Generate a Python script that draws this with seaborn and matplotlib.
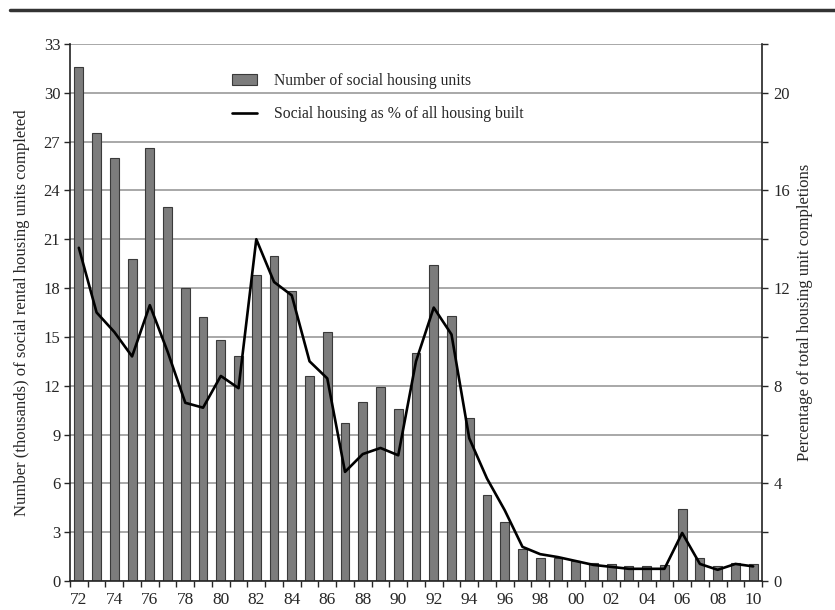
import matplotlib
matplotlib.use('Agg')
import matplotlib.pyplot as plt
import seaborn as sns
import numpy as np
import pandas as pd
from matplotlib.lines import Line2D
from matplotlib.ticker import MultipleLocator, FixedLocator

# data
years = ['72', '73', '74', '75', '76', '77', '78', '79', '80', '81',
         '82', '83', '84', '85', '86', '87', '88', '89', '90', '91',
         '92', '93', '94', '95', '96', '97', '98', '99', '00', '01',
         '02', '03', '04', '05', '06', '07', '08', '09', '10']
units = [31.6, 27.5, 26.0, 19.8, 26.6, 23.0, 18.0, 16.2, 14.8, 13.8,
         18.8, 20.0, 17.8, 12.6, 15.3, 9.7, 11.0, 11.9, 10.6, 14.0,
         19.4, 16.3, 10.0, 5.3, 3.6, 1.95, 1.4, 1.4, 1.25, 1.1,
         1.05, 0.9, 0.9, 1.0, 4.4, 1.4, 0.95, 1.1, 1.05]
pct = [13.65, 11.0, 10.2, 9.2, 11.3, 9.4, 7.3, 7.1, 8.4, 7.9,
       14.0, 12.25, 11.7, 9.0, 8.3, 4.47, 5.2, 5.45, 5.15, 9.0,
       11.2, 10.1, 5.85, 4.2, 2.9, 1.4, 1.1, 0.98, 0.82, 0.66,
       0.58, 0.5, 0.5, 0.5, 1.97, 0.7, 0.46, 0.7, 0.6]

df = pd.DataFrame({'year': years, 'units': units, 'pct': pct})
df['pos'] = np.arange(len(df))

sns.set_style('white')
plt.rcParams['font.family'] = ['Liberation Serif', 'DejaVu Serif']
plt.rcParams['font.size'] = 11

fig = plt.figure(figsize=(8.35, 6.10), dpi=100)
ax = fig.add_axes([0.0838, 0.0475, 0.8288, 0.8805])

sns.barplot(data=df, x='year', y='units', ax=ax, color='#7c7c7c',
            edgecolor='#3a3a3a', linewidth=0.8, width=0.5, saturation=1)
ax.set_xlim(-0.5, len(years) - 0.5)
ax.set_ylim(0, 33)
ax.yaxis.set_major_locator(MultipleLocator(3))
ax.grid(axis='y', color='#9a9a9a', linewidth=1.2)
ax.set_axisbelow(True)

ax.xaxis.set_major_locator(FixedLocator(np.arange(0, len(years), 2)))
ax.set_xticklabels(years[::2])
ax.xaxis.set_minor_locator(FixedLocator(np.arange(-0.5, len(years), 1)))
ax.tick_params(axis='x', which='major', length=0, pad=8, labelsize=12.5)
ax.tick_params(axis='x', which='minor', length=4, width=1, direction='out', bottom=True)
ax.tick_params(axis='y', length=4, width=1, direction='out', left=True, labelsize=12, pad=3)
ax.set_xlabel('')
ax.set_ylabel('Number (thousands) of social rental housing units completed', fontsize=12, labelpad=10)

for side in ['left', 'bottom']:
    ax.spines[side].set_color('#222222')
    ax.spines[side].set_linewidth(1.2)
ax.spines['top'].set_visible(False)
ax.spines['right'].set_visible(False)

ax2 = ax.twinx()
sns.lineplot(data=df, x='pos', y='pct', ax=ax2, color='black', linewidth=1.9)
ax2.set_ylim(0, 22)
ax2.yaxis.set_major_locator(MultipleLocator(4))
ax2.yaxis.set_minor_locator(MultipleLocator(2))
ax2.tick_params(axis='y', which='both', length=4, width=1, direction='out', right=True, labelsize=12, pad=4)
ax2.set_ylabel('Percentage of total housing unit completions', fontsize=12, labelpad=5)
ax2.set_xlabel('')
for side in ['top', 'left', 'bottom']:
    ax2.spines[side].set_visible(False)
ax2.spines['right'].set_color('#222222')
ax2.spines['right'].set_linewidth(1.2)

handles = [plt.Rectangle((0, 0), 1, 1, facecolor='#7c7c7c', edgecolor='#3a3a3a', linewidth=0.8),
           Line2D([0], [0], color='black', linewidth=1.9)]
labels = ['Number of social housing units', 'Social housing as % of all housing built']
ax.legend(handles, labels, loc='upper left', bbox_to_anchor=(0.213, 0.972), frameon=False,
          fontsize=11.3, handlelength=1.6, handleheight=0.7, labelspacing=1.1, handletextpad=1.1)

# rule along the top of the figure
fig.add_artist(Line2D([0.012, 1.0], [0.984, 0.984], color='#333333', linewidth=2.5))

fig.savefig('out.png', dpi=100)
